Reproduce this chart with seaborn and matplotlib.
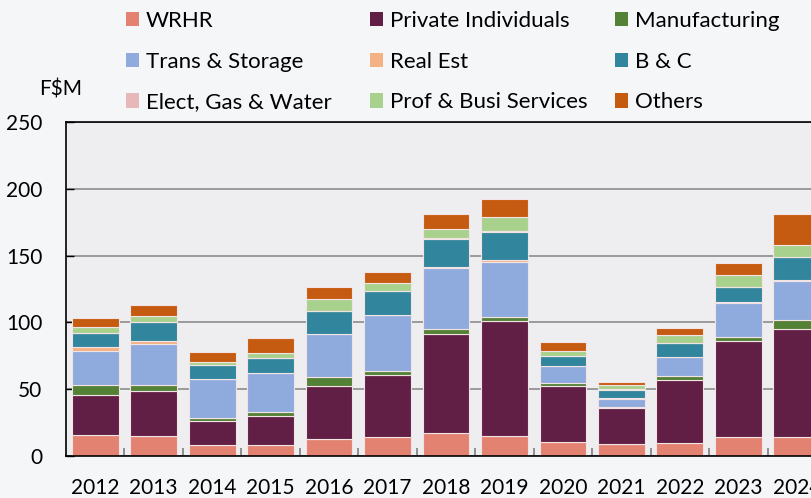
import matplotlib
matplotlib.use("Agg")
import matplotlib.pyplot as plt
from matplotlib.patches import Patch
from matplotlib.ticker import FixedLocator
import numpy as np
import pandas as pd
import seaborn as sns

# Annual lending by sector, F$ million
years = ["2012", "2013", "2014", "2015", "2016", "2017", "2018",
         "2019", "2020", "2021", "2022", "2023", "2024"]

wrhr          = [15.7, 15.2, 8.0, 8.2, 13.0, 14.0, 17.0, 15.0, 10.2, 9.0, 9.5, 14.2, 14.5]
private_indiv = [30.2, 33.7, 18.4, 22.0, 39.6, 46.8, 74.0, 86.0, 42.4, 27.1, 47.6, 72.1, 80.5]
manufacturing = [7.5, 4.2, 2.3, 2.9, 6.5, 3.0, 3.8, 3.2, 2.0, 0.6, 2.5, 2.7, 6.7]
trans_storage = [25.4, 30.9, 28.7, 29.0, 31.9, 41.4, 45.6, 41.2, 12.5, 5.9, 14.2, 25.7, 29.0]
real_est      = [2.5, 1.8, 0.5, 0.4, 0.6, 0.6, 0.8, 1.2, 0.4, 0.8, 0.3, 0.4, 1.0]
b_and_c       = [10.5, 14.4, 9.9, 10.6, 16.9, 17.4, 21.4, 21.2, 7.5, 6.2, 10.4, 11.5, 17.0]
elect_gas     = [0.2, 0.2, 0.1, 0.1, 0.2, 0.2, 0.3, 0.3, 0.2, 0.2, 0.2, 0.2, 0.2]
prof_busi     = [4.8, 4.1, 2.2, 3.8, 8.5, 6.2, 6.9, 11.0, 3.6, 3.6, 5.8, 8.8, 9.3]
others        = [6.7, 8.4, 7.7, 11.3, 9.0, 8.0, 11.5, 13.4, 6.5, 1.8, 5.2, 8.5, 22.7]

series = [
    ("WRHR", wrhr, "#E48272"),
    ("Private Individuals", private_indiv, "#621F45"),
    ("Manufacturing", manufacturing, "#538135"),
    ("Trans & Storage", trans_storage, "#8FAADC"),
    ("Real Est", real_est, "#F4B183"),
    ("B & C", b_and_c, "#31859C"),
    ("Elect, Gas & Water", elect_gas, "#E6B9B8"),
    ("Prof & Busi Services", prof_busi, "#A9D18E"),
    ("Others", others, "#C55A11"),
]

sns.set_theme(style="white")
plt.rcParams["font.family"] = ["Lato", "DejaVu Sans"]

W, H = 812, 498
fig = plt.figure(figsize=(W / 100, H / 100), dpi=100, facecolor="#F5F6F8")
ax = fig.add_axes([66 / W, 42 / H, 760 / W, 334 / H])
ax.set_facecolor("#EEEEF0")

bottom = np.zeros(len(years))
for name, vals, col in series:
    df = pd.DataFrame({"year": years, "value": vals})
    sns.barplot(data=df, x="year", y="value", bottom=bottom, color=col,
                width=0.8, edgecolor="#F2E4E4", linewidth=0.8,
                saturation=1, errorbar=None, ax=ax)
    bottom = bottom + np.array(vals)

ax.set_xlim(-0.5, len(years) - 0.5)
ax.set_ylim(0, 250)
ax.set_yticks(range(0, 251, 50))
ax.set_xlabel("")
ax.set_ylabel("")

ax.set_axisbelow(True)
ax.yaxis.grid(True, color="#8C8C8C", linewidth=1.2)
ax.xaxis.grid(False)

for side in ["left", "bottom", "top", "right"]:
    ax.spines[side].set_visible(True)
    ax.spines[side].set_color("black")
    ax.spines[side].set_linewidth(1.2)

ax.tick_params(axis="y", direction="in", length=6, width=1, color="black",
               labelsize=15, pad=17, left=True)
ax.tick_params(axis="x", which="major", length=0, labelsize=15, pad=16)
ax.xaxis.set_minor_locator(FixedLocator(np.arange(0.5, len(years) - 0.5, 1.0)))
ax.tick_params(axis="x", which="minor", direction="in", length=6, width=1.2,
               color="#7F7F7F", bottom=True)
for t in ax.get_xticklabels() + ax.get_yticklabels():
    t.set_color("black")

fig.text(61 / W, 1 - 90 / H, "F$M", fontsize=15, ha="center", va="center",
         color="black")

# Legend laid out as three columns, row-major in stacking order
col_x = [126, 370, 615]
for c in range(3):
    handles = []
    for r in range(3):
        name, _, col = series[r * 3 + c]
        handles.append(Patch(facecolor=col, edgecolor="none", label=name))
    fig.legend(handles=handles, loc="upper left",
               bbox_to_anchor=(col_x[c] / W, 1 - 11 / H),
               frameon=False, fontsize=16, handlelength=0.6,
               handleheight=0.6, handletextpad=0.3, labelspacing=0.93,
               borderpad=0, borderaxespad=0, labelcolor="black")

fig.savefig("out.png", dpi=100, facecolor=fig.get_facecolor())
